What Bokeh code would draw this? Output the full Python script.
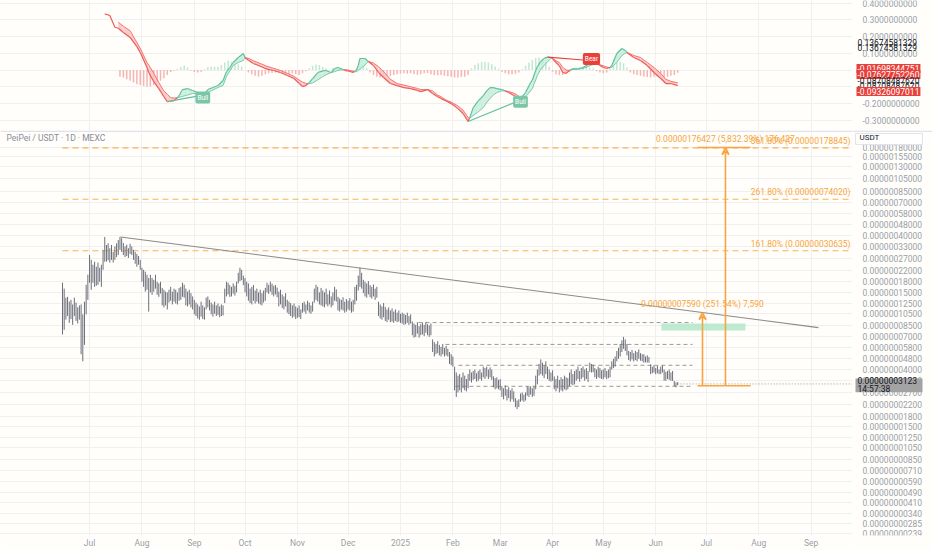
from datetime import date
from bokeh.plotting import figure
from bokeh.models import FixedTicker, Label, Range1d, Arrow, VeeHead
from bokeh.core.properties import value
from bokeh.layouts import column, row
from bokeh.embed import file_html
from bokeh.resources import INLINE

# ---------------- data ----------------
START = date(2024, 6, 15)          # date of bar index 0 (daily bars)
NANO = 1e-9                        # prices below are in units of 1e-9 USDT

bar_hi = [
    177, 160, 137,
    139, 128, 132, 122, 137, 126, 116, 120,
    122, 103, 128,
    171,
    203, 285, 262,
    241, 254, 233, 250, 229, 241,
    311, 388, 338,
    348, 320, 338, 300, 330,
    348, 368, 388, 380,
    350, 330, 340, 320, 345, 330, 311,
    300, 290, 280, 262,
    229, 221, 214, 203, 192,
    203, 192, 186, 203, 180, 175, 180,
    162, 157, 152, 150,
    157, 165, 152, 160, 157, 150, 162, 165,
    177, 171,
    160, 152, 157, 148, 140,
    132, 126, 122, 118, 128, 120, 116,
    137, 140, 132,
    126, 122, 128, 120, 124, 118, 122, 120,
    160, 180,
    177, 170, 165, 175, 168, 180,
    210, 229, 221, 200,
    192, 180, 175, 160, 165, 170, 155, 160,
    150, 157, 148, 155, 162,
    177, 171, 180, 174, 168, 170, 163,
    152, 157, 145, 140, 148,
    132, 128, 125, 120, 124, 118, 115, 120, 112,
    125, 128, 122, 130, 126, 120, 128,
    160, 171, 165, 150,
    162, 155, 150, 160, 145, 155, 140, 150,
    165, 158,
    139, 135, 132, 138, 128, 134, 130, 136, 128, 132,
    165, 171,
    200, 229, 210,
    186, 180, 175, 182, 170, 165, 172, 160, 165,
    128, 122, 118, 125,
    117, 112, 116, 110, 114, 108, 112, 106, 110, 104,
    106, 104, 102, 106, 100, 103,
    91, 88, 86, 90, 84, 87,
    89, 86, 90, 87, 85, 88,
    67, 64, 62, 65,
    61, 59, 62, 58, 60, 57,
    54, 52, 50,
    42, 38, 36,
    37, 35, 38, 36, 34, 37,
    40, 38, 39, 40, 37.5, 39, 40, 38,
    42, 41, 42, 40, 41.5, 40,
    35.6, 34.5, 35, 33.5, 34,
    30, 29, 30.5, 28.5, 29.5, 28, 29, 27.5,
    24.5, 23.5, 24,
    26.5, 27, 26, 27,
    30, 29.5, 30, 29, 30,
    36, 40,
    44, 47.6, 45, 43, 46, 42,
    40, 38, 39.5,
    35.5, 34, 36, 33.5, 35, 34, 36, 35, 34.5,
    38, 40, 37, 39,
    40, 42, 39, 41, 42.2, 40, 41, 39,
    45, 44, 43.5,
    41, 40, 42, 41, 39.5, 40, 41, 39, 40, 42,
    46, 48, 50,
    55, 58, 62, 66, 70, 67, 62,
    55, 54, 56, 53, 55, 54, 56.5, 53, 52,
    52, 50, 51, 49.5,
    43.7, 42, 43, 41, 42.5, 40, 42, 43,
    40, 38.5, 39, 40, 38, 39,
    32.9, 32, 32.3,
]

bar_lo = [
    73, 79, 94,
    100, 89, 95, 86, 100, 92, 88, 94,
    52, 46, 61,
    103,
    132, 177, 157,
    177, 165, 168, 171, 180, 165,
    221, 254, 254,
    260, 250, 262, 250, 262,
    275, 285, 311, 300,
    285, 275, 280, 271, 290, 285, 262,
    245, 233, 241, 221,
    180, 165, 152, 157, 108,
    150, 144, 152, 160, 144, 139, 147,
    120, 116, 120, 112,
    126, 130, 122, 128, 124, 122, 130, 132,
    139, 137,
    120, 118, 122, 116, 112,
    103, 100, 96, 94, 99, 95, 94,
    112, 116, 110,
    103, 99, 104, 100, 102, 98, 100, 101,
    125, 140,
    145, 139, 140, 147, 142, 150,
    175, 182, 185, 170,
    150, 140, 130, 125, 122, 130, 124, 128,
    124, 122, 120, 126, 130,
    150, 146, 152, 144, 140, 145, 138,
    118, 122, 115, 112, 118,
    106, 103, 100, 97, 99, 95, 97, 98, 95,
    106, 108, 104, 110, 106, 104, 108,
    126, 132, 128, 122,
    120, 118, 116, 122, 118, 122, 116, 120,
    130, 128,
    110, 108, 112, 110, 106, 108, 112, 110, 106, 108,
    122, 130,
    155, 165, 160,
    148, 140, 137, 145, 138, 135, 140, 132, 137,
    100, 96, 94, 98,
    92, 90, 94, 90, 91, 89, 92, 90, 91, 89,
    88, 86, 87, 89, 86, 88,
    72, 69, 70, 74, 69, 72,
    73, 71, 75, 72, 70, 72,
    54, 50, 52, 53,
    51, 50, 52, 50, 51, 50,
    44, 43, 42,
    28, 25, 27,
    28, 27, 29, 28, 27.5, 29,
    33, 32, 33.5, 34, 32.5, 33, 34, 33,
    35, 34, 35.5, 34, 35, 33.5,
    29.5, 28.5, 29, 28.5, 28,
    25, 24, 25.5, 23.5, 24.5, 23, 24, 23,
    21, 20.3, 21,
    23, 23.5, 23, 23.5,
    25.5, 25, 26, 25, 25.5,
    28.5, 31,
    36, 37, 36, 34.5, 37, 34,
    33, 32.5, 33,
    28.5, 27.5, 29, 27, 28, 27.5, 28.5, 28, 28.5,
    30, 31, 30.5, 31,
    33, 34, 32.5, 34, 35, 33, 34, 32.3,
    38.5, 38, 38.2,
    35, 34, 35, 34.5, 34, 33.9, 35, 33.9, 34.5, 35,
    40, 41, 42,
    46, 48, 50, 54, 57, 55, 51,
    47, 46, 47.6, 46, 47, 46, 48, 46.5, 46,
    45, 45.2, 45, 45,
    37, 37.5, 38, 36.9, 37.5, 36.9, 37, 38,
    33, 33, 34, 33.5, 33, 32.9,
    30, 29.5, 30.5,
]
last_close = 31.23
last_close_text = "0.00000003123"
countdown_text = "14:57:38"

price_ticks = [1800, 1550, 1300, 1050, 850, 700, 580, 480, 400, 330, 270, 220, 180, 150,
               125, 105, 85, 70, 58, 48, 40, 33, 27, 22, 18, 15, 12.5, 10.5, 8.5, 7.1,
               5.9, 4.9, 4.1, 3.4, 2.85, 2.39]
month_dates = [(2024, 7), (2024, 8), (2024, 9), (2024, 10), (2024, 11), (2024, 12),
               (2025, 1), (2025, 2), (2025, 3), (2025, 4), (2025, 5), (2025, 6),
               (2025, 7), (2025, 8), (2025, 9)]
month_labels = ["Jul", "Aug", "Sep", "Oct", "Nov", "Dec", "2025", "Feb", "Mar", "Apr",
                "May", "Jun", "Jul", "Aug", "Sep"]

fib_levels = [1788.45, 740.20, 306.35]
fib_labels = ["361.80% (0.00000178845)", "261.80% (0.00000074020)", "161.80% (0.00000030635)"]

trend_x = [34.3, 447.3]
trend_p = [388, 82]
sr_levels = [89.4, 61.5, 43.0, 30.0]
sr_start = [210.7, 226.6, 234.3, 232.5]
sr_end = 372.8
zone_x = [354.4, 404.1]
zone_p = [78, 88]

range_x = [375.7, 407.1]
arrow_x = [378.7, 392.3]
arrow_from = [30.17, 30.25]
arrow_to = [106.07, 1794.5]
arrow_text = ["0.00000007590 (251.54%) 7,590", "0.00000176427 (5,832.39%) 176,427"]

# indicator (oscillator) ------------------------------------------
head_i = [25, 28, 31, 33]
head_v = [0.336, 0.326, 0.256, 0.250]
ind_i = [33, 36, 40, 44, 46, 50, 51, 54, 57, 60,
         62, 64, 66, 68, 69, 71, 74, 77, 80, 82,
         83, 86, 89, 92, 95, 97, 99, 101, 104, 107,
         108, 110, 113, 118, 121, 125, 129, 133, 137, 140,
         142, 144, 146, 148, 151, 154, 156, 158, 159, 161,
         163, 166, 169, 172, 174, 175, 176, 179, 181, 184,
         187, 190, 194, 198, 202, 206, 210, 212, 216, 219,
         222, 224, 227, 230, 234, 237, 240, 241, 243, 246,
         249, 251, 253, 255, 257, 260, 262, 264, 267, 269,
         271, 272, 274, 277, 278, 280, 281, 283, 285, 287,
         289, 290, 292, 294, 296, 298, 300, 302, 305, 308,
         312, 314, 316, 317, 320, 322, 324, 325, 328, 331,
         333, 334, 338, 342, 346, 350, 354, 357, 360, 364]
ind_fast = [0.250, 0.225, 0.195, 0.140, 0.105, 0.015, -0.015, -0.070, -0.111, -0.160,
            -0.189, -0.187, -0.183, -0.165, -0.153, -0.117, -0.111, -0.123, -0.135, -0.141,
            -0.153, -0.117, -0.105, -0.093, -0.063, -0.010, 0.015, 0.045, 0.075, 0.099,
            0.075, 0.058, 0.039, 0.018, 0.005, -0.003, -0.015, -0.033, -0.051, -0.080,
            -0.099, -0.093, -0.075, -0.051, -0.015, -0.005, -0.003, -0.012, -0.015, 0.009,
            0.015, 0.003, -0.006, -0.015, 0.000, 0.027, 0.069, 0.069, 0.051, 0.027,
            -0.015, -0.045, -0.081, -0.093, -0.105, -0.111, -0.122, -0.129, -0.117, -0.141,
            -0.160, -0.171, -0.185, -0.201, -0.231, -0.260, -0.308, -0.285, -0.225, -0.185,
            -0.153, -0.125, -0.105, -0.105, -0.111, -0.117, -0.125, -0.135, -0.153, -0.165,
            -0.171, -0.160, -0.135, -0.075, -0.060, -0.003, 0.020, 0.051, 0.070, 0.077,
            0.075, 0.068, 0.045, 0.025, -0.015, -0.020, -0.003, 0.009, 0.006, 0.015,
            0.039, 0.045, 0.040, 0.035, 0.015, 0.009, 0.015, 0.027, 0.099, 0.129,
            0.117, 0.105, 0.075, 0.057, 0.027, -0.015, -0.051, -0.081, -0.081, -0.093]
ind_slow = [0.286, 0.262, 0.235, 0.165, 0.130, 0.045, 0.030, -0.020, -0.075, -0.125,
            -0.145, -0.165, -0.168, -0.165, -0.163, -0.158, -0.150, -0.141, -0.140, -0.141,
            -0.140, -0.135, -0.120, -0.105, -0.093, -0.040, -0.005, 0.027, 0.045, 0.057,
            0.075, 0.070, 0.055, 0.035, 0.022, 0.010, -0.003, -0.020, -0.038, -0.060,
            -0.072, -0.080, -0.082, -0.078, -0.060, -0.039, -0.028, -0.020, -0.015, -0.010,
            -0.002, 0.002, 0.000, -0.008, -0.010, -0.003, 0.005, 0.030, 0.051, 0.042,
            0.020, -0.010, -0.055, -0.081, -0.090, -0.100, -0.110, -0.117, -0.117, -0.125,
            -0.150, -0.160, -0.180, -0.192, -0.215, -0.240, -0.284, -0.288, -0.273, -0.250,
            -0.225, -0.195, -0.170, -0.150, -0.135, -0.125, -0.125, -0.129, -0.138, -0.150,
            -0.165, -0.166, -0.160, -0.125, -0.111, -0.060, -0.033, 0.005, 0.027, 0.050,
            0.069, 0.070, 0.055, 0.045, 0.015, 0.000, -0.002, 0.003, 0.005, 0.009,
            0.025, 0.033, 0.036, 0.035, 0.025, 0.018, 0.015, 0.016, 0.045, 0.087,
            0.100, 0.105, 0.087, 0.075, 0.045, 0.015, -0.021, -0.055, -0.068, -0.076]
hist_first = 34
hist_v = [-0.040, -0.045, -0.055, -0.065, -0.075, -0.085, -0.090, -0.095, -0.100, -0.098,
          -0.090, -0.080, -0.065, -0.050, -0.030, -0.012, -0.005, 0.008, 0.020, 0.027,
          0.015, -0.005, -0.012, -0.015, -0.010, 0.005, 0.018, 0.020, 0.018, 0.020,
          0.030, 0.045, 0.057, 0.050, 0.045, 0.035, 0.020, 0.000, -0.015, -0.025,
          -0.035, -0.040, -0.035, -0.025, -0.020, -0.018, -0.015, -0.018, -0.020, -0.020,
          -0.022, -0.020, -0.025, -0.030, -0.020, -0.008, 0.010, 0.025, 0.033, 0.030,
          0.020, 0.010, 0.002, 0.010, 0.012, 0.005, -0.005, -0.010, -0.010, -0.008,
          0.010, 0.030, 0.028, 0.010, -0.015, -0.030, -0.040, -0.045, -0.045, -0.042,
          -0.038, -0.030, -0.025, -0.022, -0.020, -0.022, -0.020, -0.025, -0.028, -0.025,
          -0.020, -0.018, -0.025, -0.030, -0.032, -0.030, -0.035, -0.038, -0.040, -0.045,
          -0.045, -0.042, -0.040, -0.030, 0.010, 0.030, 0.040, 0.050, 0.050, 0.045,
          0.035, 0.020, 0.008, -0.010, -0.020, -0.025, -0.025, -0.022, -0.015, 0.005,
          0.025, 0.045, 0.060, 0.072, 0.075, 0.065, 0.045, 0.020, -0.010, -0.025,
          -0.030, -0.030, -0.022, -0.010, 0.008, 0.015, 0.020, 0.020, 0.018, 0.015,
          0.010, -0.008, -0.015, -0.020, -0.015, 0.010, 0.030, 0.045, 0.050, 0.040,
          0.015, -0.015, -0.025, -0.030, -0.035, -0.040, -0.042, -0.045, -0.040, -0.038,
          -0.042, -0.045, -0.040, -0.035, -0.030, -0.017]
div_names = ["Bull", "Bull", "Bear"]
div_x0 = [62, 240, 287]
div_v0 = [-0.189, -0.308, 0.077]
div_x1 = [83, 271, 308]
div_v1 = [-0.150, -0.180, 0.060]
div_lx = [83, 271, 313]
div_lv = [-0.165, -0.190, 0.066]

osc_ticks = [0.4, 0.3, 0.2, 0.1, 0.0, -0.1, -0.2, -0.3]
osc_tick_labels = ["0.4000000000", "0.3000000000", "0.2000000000", "0.1000000000", "", "",
                   "-0.2000000000", "-0.3000000000"]
# last values shown on the oscillator scale (text, tag colour)
osc_tags = ["0.13674581329", "0.13674581329", "-0.01698344751", "-0.07627752260",
            "-0.08708487620", "-0.08708487620", "-0.09326097011"]
osc_tag_red = [False, False, True, True, False, False, True]

assert len(bar_hi) == len(bar_lo) == 365
assert len(ind_i) == len(ind_fast) == len(ind_slow)

# ---------------- styling ----------------
BG = "#fffefb"
SEP = "#e0e3eb"
GRID = "#f0f0f0"
AX_TXT = "#9a9ea8"
FONT = "Roboto"
ORANGE = "#f7a540"
BAR = "#6c6f79"
G_LINE, G_FILL, G_HIST = "#5ec29e", "#c8ecdd", "#c2e6d8"
R_LINE, R_FILL, R_HIST = "#ef5a57", "#f8c6c4", "#f6b5b3"
TAG_RED = "#e8413c"

month_pos = [(date(y, m, 1) - START).days for (y, m) in month_dates]
X_RANGE = Range1d(-36.69, 467.46)
CHART_W = 852
AXIS_W = 80
PX_PER_DECADE = 135

# pane geometry (page pixels): oscillator frame 0..130, price frame 132..537
P1_H, P1_BOT = 132, 2
P2_H, P2_BOT = 418, 13
P2_FRAME_H = P2_H - P2_BOT


def base(p, border=BG):
    p.background_fill_color = BG
    p.border_fill_color = border
    p.outline_line_color = None


# ---------------- oscillator pane ----------------
osc_range = Range1d(-0.362, 0.416)
p1 = figure(width=CHART_W, height=P1_H, x_range=X_RANGE, y_range=osc_range,
            y_axis_location=None, x_axis_location=None, output_backend="svg",
            toolbar_location=None, min_border_left=0, min_border_right=0,
            min_border_top=0, min_border_bottom=P1_BOT)
base(p1, SEP)
p1.xgrid.ticker = FixedTicker(ticks=month_pos)
p1.ygrid.ticker = FixedTicker(ticks=osc_ticks)
p1.grid.grid_line_color = GRID

hist_x = [hist_first + 2 * k for k in range(len(hist_v))]
p1.vbar(x=hist_x, top=hist_v, bottom=0, width=0.9,
        fill_color=[G_HIST if v >= 0 else R_HIST for v in hist_v], line_color=None)

pxs, pys, pcols = [], [], []
fx0s, fy0s, fx1s, fy1s, fcols = [], [], [], [], []
sy0s, sy1s = [], []
for k in range(len(ind_i) - 1):
    x0, x1 = ind_i[k], ind_i[k + 1]
    f0, f1, s0, s1 = ind_fast[k], ind_fast[k + 1], ind_slow[k], ind_slow[k + 1]
    d0, d1 = f0 - s0, f1 - s1
    if d0 * d1 < 0:
        t = d0 / (d0 - d1)
        xc = x0 + t * (x1 - x0)
        yc = f0 + t * (f1 - f0)
        parts = [(x0, xc, f0, yc, s0, yc, d0), (xc, x1, yc, f1, yc, s1, d1)]
    else:
        parts = [(x0, x1, f0, f1, s0, s1, d0 + d1)]
    for (a, b, fa, fb, sa, sb, d) in parts:
        up = d > 0
        pxs.append([a, b, b, a])
        pys.append([fa, fb, sb, sa])
        pcols.append(G_FILL if up else R_FILL)
        fx0s.append(a); fx1s.append(b); fy0s.append(fa); fy1s.append(fb)
        sy0s.append(sa); sy1s.append(sb)
        fcols.append(G_LINE if up else R_LINE)

p1.patches(xs=pxs, ys=pys, fill_color=pcols, line_color=None, fill_alpha=0.9)
p1.segment(x0=fx0s, y0=sy0s, x1=fx1s, y1=sy1s, line_color=fcols, line_width=1, line_alpha=0.8)
p1.segment(x0=fx0s, y0=fy0s, x1=fx1s, y1=fy1s, line_color=fcols, line_width=1.2)
p1.line(head_i, head_v, line_color=R_LINE, line_width=1.2)

for name, a, va, b, vb, lx, lv in zip(div_names, div_x0, div_v0, div_x1, div_v1, div_lx, div_lv):
    col = G_LINE if name == "Bull" else TAG_RED
    p1.line([a, b], [va, vb], line_color=col, line_width=1.2)
    p1.add_layout(Label(x=lx, y=lv, text=name, text_color="white", text_font=FONT,
                        text_font_size="6.5px", text_align="center", text_baseline="middle",
                        background_fill_color=("#7cc6a8" if name == "Bull" else TAG_RED),
                        padding=2, border_radius=2))

# oscillator scale (own narrow panel so the value tags can sit on it)
a1 = figure(width=AXIS_W, height=P1_H, x_range=Range1d(0, AXIS_W), y_range=osc_range,
            y_axis_location=None, x_axis_location=None, output_backend="svg",
            toolbar_location=None, min_border_left=0, min_border_right=0,
            min_border_top=0, min_border_bottom=P1_BOT)
base(a1, SEP)
a1.grid.visible = False
a1.text(x=[10] * len(osc_ticks), y=osc_ticks, text=osc_tick_labels, text_font=value(FONT),
        text_font_size=value("8.5px"), text_color=AX_TXT, text_baseline="middle",
        text_align="left")
tag_screen_y = [88, 83, 62, 56, 50, 45, 39]
for txt, red, sy in zip(osc_tags, osc_tag_red, tag_screen_y):
    a1.add_layout(Label(x=4, y=sy, x_units="screen", y_units="screen", text=txt,
                        text_color=("white" if red else "#131722"), text_font=FONT,
                        text_font_size="8.5px", text_baseline="middle",
                        background_fill_color=(TAG_RED if red else None), padding=1))

# ---------------- price pane ----------------
price_range = Range1d(2.325e-9, 2.325e-6)
p2 = figure(width=CHART_W, height=P2_H, x_range=X_RANGE, y_range=price_range,
            y_axis_type="log", y_axis_location=None, output_backend="svg",
            toolbar_location=None, min_border_left=0, min_border_right=0,
            min_border_top=0, min_border_bottom=P2_BOT)
base(p2)
ptk = FixedTicker(ticks=[v * NANO for v in price_ticks])
p2.ygrid.ticker = ptk
p2.xgrid.ticker = FixedTicker(ticks=month_pos)
p2.grid.grid_line_color = GRID
xa = p2.xaxis[0]
xa.ticker = FixedTicker(ticks=month_pos)
xa.major_label_overrides = {pos: lab for pos, lab in zip(month_pos, month_labels)}
xa.axis_line_color = None
xa.major_tick_line_color = None
xa.minor_tick_line_color = None
xa.major_tick_out = 0
xa.major_tick_in = 0
xa.minor_tick_out = 0
xa.minor_tick_in = 0
xa.major_label_text_font = FONT
xa.major_label_text_font_size = "8.5px"
xa.major_label_text_color = AX_TXT
xa.major_label_standoff = 2

# fib levels
first_bar = 0
for lvl, lab in zip(fib_levels, fib_labels):
    p2.segment(x0=[first_bar], y0=[lvl * NANO], x1=[X_RANGE.end], y1=[lvl * NANO],
               line_color=ORANGE, line_dash="6 4", line_width=1.2, line_alpha=0.85)
    p2.add_layout(Label(x=466.3, y=lvl * NANO, text=lab, text_align="right",
                        text_baseline="bottom", y_offset=2, text_color=ORANGE,
                        text_font=FONT, text_font_size="8.5px"))

# support / resistance dashed lines
for lvl, st in zip(sr_levels, sr_start):
    p2.segment(x0=[st], y0=[lvl * NANO], x1=[sr_end], y1=[lvl * NANO],
               line_color="#9a9a9a", line_dash="4 3", line_width=1)

# target zone
p2.quad(left=[zone_x[0]], right=[zone_x[1]], bottom=[zone_p[0] * NANO], top=[zone_p[1] * NANO],
        fill_color="#b3e6c9", fill_alpha=0.85, line_color=None)

# trend line
p2.line(trend_x, [v * NANO for v in trend_p], line_color="#8a8a8a", line_width=1.1)

# bars
idx = list(range(len(bar_hi)))
p2.segment(x0=idx, y0=[v * NANO for v in bar_lo], x1=idx, y1=[v * NANO for v in bar_hi],
           line_color=BAR, line_width=1)

# last price dotted line
p2.segment(x0=[idx[-1]], y0=[last_close * NANO], x1=[X_RANGE.end], y1=[last_close * NANO],
           line_color="#9a9a9a", line_dash="1 2", line_width=1)

# price range measurement arrows
p2.segment(x0=[range_x[0]], y0=[arrow_from[1] * NANO], x1=[range_x[1]], y1=[arrow_from[1] * NANO],
           line_color=ORANGE, line_width=1.5)
p2.segment(x0=[range_x[0]], y0=[arrow_to[1] * NANO], x1=[range_x[1]], y1=[arrow_to[1] * NANO],
           line_color=ORANGE, line_width=1.5)
for ax_, a, b, txt in zip(arrow_x, arrow_from, arrow_to, arrow_text):
    p2.add_layout(Arrow(end=VeeHead(size=7, line_color=ORANGE, line_width=1.5, fill_color=None),
                        x_start=ax_, y_start=a * NANO, x_end=ax_, y_end=b * NANO,
                        line_color=ORANGE, line_width=1.6))
    p2.add_layout(Label(x=ax_, y=b * NANO, text=txt, text_align="center", text_baseline="bottom",
                        y_offset=4, text_color=ORANGE, text_font=FONT, text_font_size="8.5px"))

# title
p2.add_layout(Label(x=6, y=P2_FRAME_H - 7, x_units="screen", y_units="screen",
                    text="PeiPei / USDT · 1D · MEXC", text_color="#8a8d96", text_font=FONT,
                    text_font_size="8.5px", text_baseline="middle"))

# price scale panel
a2 = figure(width=AXIS_W, height=P2_H, x_range=Range1d(0, AXIS_W), y_range=price_range,
            y_axis_type="log", y_axis_location=None, x_axis_location=None,
            output_backend="svg", toolbar_location=None, min_border_left=0,
            min_border_right=0, min_border_top=0, min_border_bottom=P2_BOT)
base(a2)
a2.grid.visible = False
a2.text(x=[10] * len(price_ticks), y=[v * NANO for v in price_ticks],
        text=["%.11f" % (v * NANO) for v in price_ticks], text_font=value(FONT),
        text_font_size=value("8.5px"), text_color=AX_TXT, text_baseline="middle",
        text_align="left")
# "USDT" header box (11 px tall at the top of the scale)
a2.quad(left=[3], right=[70], top=[price_range.end * 10 ** (-1 / PX_PER_DECADE)],
        bottom=[price_range.end * 10 ** (-12 / PX_PER_DECADE)],
        fill_color="white", line_color=SEP)
a2.add_layout(Label(x=7, y=P2_FRAME_H - 7, x_units="screen", y_units="screen",
                    text="USDT", text_color="#131722", text_font=FONT,
                    text_font_size="8px", text_baseline="middle"))
# last price tag (box spans the two text lines)
a2.quad(left=[3], right=[70], bottom=[last_close * 0.868 * NANO], top=[last_close * 1.10 * NANO],
        fill_color="#a3a3a3", line_color=None)
a2.add_layout(Label(x=5, y=last_close * NANO, x_units="screen", y_offset=3,
                    text=last_close_text, text_color="#131722", text_font=FONT,
                    text_font_size="8.5px", text_baseline="middle"))
a2.add_layout(Label(x=5, y=last_close * NANO, x_units="screen", y_offset=-5,
                    text=countdown_text, text_color="#131722", text_font=FONT,
                    text_font_size="8.5px", text_baseline="middle"))

layout = column(row(p1, a1), row(p2, a2))
open("out.html", "w").write(file_html(layout, INLINE))
